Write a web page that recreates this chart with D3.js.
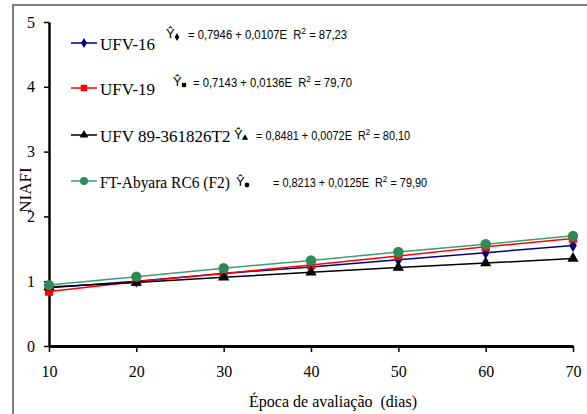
<!DOCTYPE html>
<html>
<head>
<meta charset="utf-8">
<script src="https://cdn.jsdelivr.net/npm/d3@7"></script>
<style>
  body { margin: 0; background: #fff; }
  svg { display: block; }
</style>
</head>
<body>
<div id="chart"></div>
<script>
// data
const days = [10, 20, 30, 40, 50, 60, 70];
const ufv16 = [0.90, 1.00, 1.12, 1.22, 1.33, 1.44, 1.55];
const ufv19 = [0.84, 0.99, 1.12, 1.25, 1.39, 1.53, 1.66];
const ufv89 = [0.91, 0.98, 1.06, 1.14, 1.21, 1.28, 1.35];
const abyara = [0.94, 1.07, 1.20, 1.32, 1.45, 1.57, 1.70];
const seriesNames = ['UFV-16', 'UFV-19', 'UFV 89-361826T2', 'FT-Abyara RC6 (F2)'];
const equations = [
  ['0,7946', '0,0107', '87,23'],
  ['0,7143', '0,0136', '79,70'],
  ['0,8481', '0,0072', '80,10'],
  ['0,8213', '0,0125', '79,90']
];
const yTicks = [0, 1, 2, 3, 4, 5];
const xTicks = [10, 20, 30, 40, 50, 60, 70];

const width = 587, height = 414;
const serif = '"Liberation Serif", "Times New Roman", serif';
const sans = '"Liberation Sans", Arial, sans-serif';

const series = [
  { name: seriesNames[0], values: ufv16, line: '#000080', fill: '#000080', symbol: d3.symbolDiamond, size: 50, eq: equations[0] },
  { name: seriesNames[1], values: ufv19, line: '#ff0000', fill: '#ff0000', symbol: d3.symbolSquare, size: 70, eq: equations[1] },
  { name: seriesNames[2], values: ufv89, line: '#000000', fill: '#000000', symbol: d3.symbolTriangle, size: 55, eq: equations[2] },
  { name: seriesNames[3], values: abyara, line: '#3b9e6e', fill: '#2e8b57', symbol: d3.symbolCircle, size: 85, eq: equations[3] }
];

const svg = d3.select('#chart').append('svg')
  .attr('width', width)
  .attr('height', height);

// outer frame (cut off on right and bottom like the source)
svg.append('rect')
  .attr('x', 13).attr('y', 5)
  .attr('width', 590).attr('height', 420)
  .attr('fill', 'none')
  .attr('stroke', '#7f7f7f')
  .attr('stroke-width', 2);

const x = d3.scaleLinear().domain([10, 70]).range([49, 573]);
const y = d3.scaleLinear().domain([0, 5]).range([346, 22]);

// y axis
const yAxis = svg.append('g')
  .attr('transform', `translate(${x(10)},0)`)
  .call(d3.axisLeft(y).tickValues(yTicks).tickSize(5).tickPadding(9).tickSizeOuter(0).tickFormat(d3.format('d')));
yAxis.select('.domain').attr('stroke', '#000').attr('stroke-width', 2.5);
yAxis.selectAll('.tick line').attr('stroke', '#000').attr('stroke-width', 1.5);
yAxis.selectAll('text').attr('font-family', serif).attr('font-size', '16px').attr('fill', '#000');

// x axis
const xAxis = svg.append('g')
  .attr('transform', `translate(0,${y(0)})`)
  .call(d3.axisBottom(x).tickValues(xTicks).tickSize(6).tickPadding(14).tickSizeOuter(0).tickFormat(d3.format('d')));
xAxis.select('.domain').attr('stroke', '#000').attr('stroke-width', 3);
xAxis.selectAll('.tick line').attr('stroke', '#000').attr('stroke-width', 1.5);
xAxis.selectAll('text').attr('font-family', serif).attr('font-size', '16px').attr('fill', '#000');

// axis titles
svg.append('text')
  .attr('x', 333).attr('y', 407)
  .attr('text-anchor', 'middle')
  .attr('font-family', serif).attr('font-size', '16px')
  .attr('xml:space', 'preserve')
  .text('Época de avaliação  (dias)');

svg.append('text')
  .attr('transform', 'translate(31,190) rotate(-90)')
  .attr('text-anchor', 'middle')
  .attr('font-family', serif).attr('font-size', '17px')
  .text('NIAFI');

// lines + markers
const line = d3.line()
  .x((d, i) => x(days[i]))
  .y(d => y(d));

series.forEach(s => {
  svg.append('path')
    .datum(s.values)
    .attr('d', line)
    .attr('fill', 'none')
    .attr('stroke', s.line)
    .attr('stroke-width', 1.5);
});

series.forEach(s => {
  svg.append('g')
    .selectAll('path')
    .data(s.values)
    .join('path')
    .attr('transform', (d, i) => `translate(${x(days[i])},${y(d)})`)
    .attr('d', d3.symbol().type(s.symbol).size(s.size))
    .attr('fill', s.fill);
});

// legend with equations (positions follow the source layout)
const legendY = [43, 88, 135, 181];
const labelW = [57, 57, 131, 130];
const eqBase = [39, 87, 140, 187];
const hatX = [166, 173, 234, 236];
const eqX = [188, 193, 256, 273];
const eqScale = [0.94, 0.94, 0.91, 0.91];

series.forEach((s, i) => {
  const ly = legendY[i];
  svg.append('line')
    .attr('x1', 71).attr('x2', 97)
    .attr('y1', ly).attr('y2', ly)
    .attr('stroke', s.line).attr('stroke-width', 1.5);
  svg.append('path')
    .attr('transform', `translate(84,${ly})`)
    .attr('d', d3.symbol().type(s.symbol).size(s.size * 0.6))
    .attr('fill', s.fill);

  // label squeezed to the source width
  const lg = svg.append('g');
  const label = lg.append('text')
    .attr('x', 0).attr('y', 0)
    .attr('font-family', serif).attr('font-size', '17px')
    .text(s.name);
  const natural = label.node().getComputedTextLength();
  const k = Math.min(1, labelW[i] / natural);
  lg.attr('transform', `translate(100,${ly + 7}) scale(${k},1)`);

  const b = eqBase[i];
  svg.append('text')
    .attr('x', hatX[i]).attr('y', b - 1)
    .attr('font-family', sans).attr('font-size', '13px')
    .text('Ŷ');
  svg.append('path')
    .attr('transform', `translate(${hatX[i] + 11},${b - 2})`)
    .attr('d', d3.symbol().type(s.symbol).size(18))
    .attr('fill', '#000');
  const g = svg.append('g')
    .attr('transform', `translate(${eqX[i]},${b}) scale(${eqScale[i]},1)`);
  const t = g.append('text')
    .attr('x', 0).attr('y', 0)
    .attr('font-family', sans).attr('font-size', '12px')
    .attr('xml:space', 'preserve');
  t.append('tspan').text(`= ${s.eq[0]} + ${s.eq[1]}E  R`);
  t.append('tspan').attr('dy', -5).attr('font-size', '9px').text('2');
  t.append('tspan').attr('dy', 5).text(` = ${s.eq[2]}`);
});
</script>
</body>
</html>
